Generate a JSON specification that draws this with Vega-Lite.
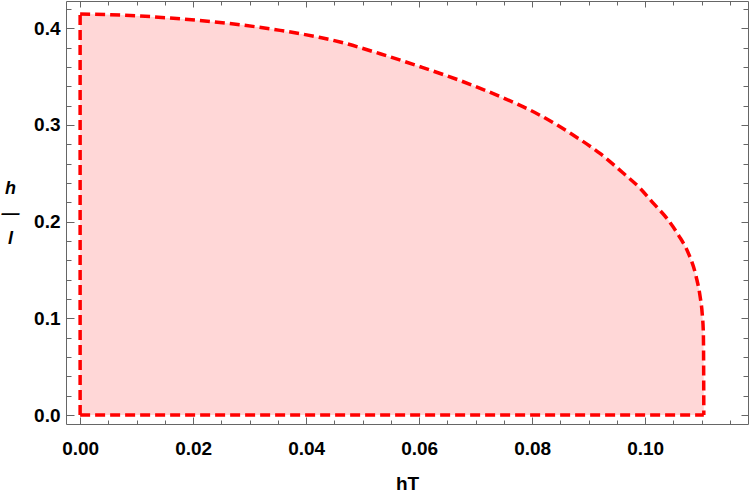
{
  "$schema": "https://vega.github.io/schema/vega-lite/v6.json",
  "width": 682,
  "height": 423,
  "autosize": {"type": "none"},
  "padding": {"left": 66, "top": 1, "right": 2, "bottom": 70},
  "background": "white",
  "datasets": {
    "curve": [
      {"x": 0, "y": 0.4147},
      {"x": 0.0044, "y": 0.4142},
      {"x": 0.00885, "y": 0.4132},
      {"x": 0.0177, "y": 0.4098},
      {"x": 0.0265, "y": 0.4049},
      {"x": 0.0354, "y": 0.3978},
      {"x": 0.0425, "y": 0.3904},
      {"x": 0.046, "y": 0.3858},
      {"x": 0.0531, "y": 0.3736},
      {"x": 0.0602, "y": 0.3602},
      {"x": 0.0673, "y": 0.3458},
      {"x": 0.0743, "y": 0.3295},
      {"x": 0.0814, "y": 0.3100},
      {"x": 0.0867, "y": 0.2916},
      {"x": 0.092, "y": 0.2705},
      {"x": 0.09616, "y": 0.2500},
      {"x": 0.09912, "y": 0.2344},
      {"x": 0.10147, "y": 0.2189},
      {"x": 0.10384, "y": 0.2034},
      {"x": 0.10589, "y": 0.1861},
      {"x": 0.10766, "y": 0.1672},
      {"x": 0.10903, "y": 0.1430},
      {"x": 0.10973, "y": 0.1223},
      {"x": 0.11009, "y": 0.1052},
      {"x": 0.1103, "y": 0.0845},
      {"x": 0.11035, "y": 0.0499},
      {"x": 0.11038, "y": 0}
    ],
    "leftEdge": [{"x": 0, "y": 0}, {"x": 0, "y": 0.4147}],
    "bottomEdge": [{"x": 0, "y": 0}, {"x": 0.11038, "y": 0}]
  },
  "config": {
    "view": {"stroke": "#666666", "strokeWidth": 1},
    "axis": {
      "domain": false,
      "grid": false,
      "tickColor": "#666666",
      "tickWidth": 1,
      "labelFont": "Liberation Sans",
      "labelFontWeight": "bold",
      "labelFontSize": 19,
      "labelColor": "#000000",
      "labelFlush": false,
      "labelOverlap": false,
      "labelBound": false,
      "titleFont": "Liberation Sans",
      "titleFontWeight": "bold",
      "titleFontSize": 19,
      "titleColor": "#000000"
    }
  },
  "resolve": {"axis": {"x": "independent", "y": "independent"}},
  "layer": [
    {
      "data": {"name": "curve"},
      "mark": {"type": "area", "color": "#FFD7D7", "opacity": 1, "interpolate": "monotone"},
      "encoding": {
        "x": {
          "field": "x", "type": "quantitative",
          "scale": {"domain": [-0.0025, 0.1182], "nice": false, "zero": false},
          "axis": {
            "orient": "bottom",
            "values": [0, 0.02, 0.04, 0.06, 0.08, 0.1],
            "format": ".2f",
            "tickSize": -7,
            "labelPadding": 22,
            "title": "hT",
            "titleY": 65,
            "titleBaseline": "alphabetic"
          }
        },
        "y": {
          "field": "y", "type": "quantitative",
          "scale": {"domain": [-0.0093, 0.4282], "nice": false, "zero": false},
          "axis": {
            "orient": "left",
            "values": [0, 0.1, 0.2, 0.3, 0.4],
            "format": ".1f",
            "tickSize": -8,
            "labelPadding": 14,
            "title": ["h", "—", "l"],
            "titleAngle": 0,
            "titleX": -56,
            "titleY": 192,
            "titleAlign": "center",
            "titleBaseline": "alphabetic",
            "titleFontStyle": "italic",
            "titleFontSize": 18,
            "titleLineHeight": 25
          }
        },
        "y2": {"datum": 0}
      }
    },
    {
      "data": {"name": "curve"},
      "mark": {"type": "line", "color": "#FF0000", "strokeWidth": 3.5, "strokeDash": [10, 5], "interpolate": "monotone"},
      "encoding": {
        "x": {
          "field": "x", "type": "quantitative",
          "axis": {
            "orient": "bottom",
            "values": [0, 0.005, 0.01, 0.015, 0.02, 0.025, 0.03, 0.035, 0.04, 0.045, 0.05, 0.055, 0.06, 0.065, 0.07, 0.075, 0.08, 0.085, 0.09, 0.095, 0.1, 0.105, 0.11, 0.115],
            "tickSize": -4,
            "labels": false,
            "title": null
          }
        },
        "y": {
          "field": "y", "type": "quantitative",
          "axis": {
            "orient": "left",
            "values": [0, 0.02, 0.04, 0.06, 0.08, 0.1, 0.12, 0.14, 0.16, 0.18, 0.2, 0.22, 0.24, 0.26, 0.28, 0.3, 0.32, 0.34, 0.36, 0.38, 0.4, 0.42],
            "tickSize": -5,
            "labels": false,
            "title": null
          }
        }
      }
    },
    {
      "data": {"name": "leftEdge"},
      "mark": {"type": "line", "color": "#FF0000", "strokeWidth": 3.5, "strokeDash": [10, 5]},
      "encoding": {
        "x": {
          "field": "x", "type": "quantitative",
          "axis": {
            "orient": "top",
            "values": [0, 0.02, 0.04, 0.06, 0.08, 0.1],
            "tickSize": -6,
            "labels": false,
            "title": null
          }
        },
        "y": {
          "field": "y", "type": "quantitative",
          "axis": {
            "orient": "right",
            "values": [0, 0.1, 0.2, 0.3, 0.4],
            "tickSize": -7,
            "labels": false,
            "title": null
          }
        }
      }
    },
    {
      "data": {"name": "bottomEdge"},
      "mark": {"type": "line", "color": "#FF0000", "strokeWidth": 3.5, "strokeDash": [10, 5]},
      "encoding": {
        "x": {
          "field": "x", "type": "quantitative",
          "axis": {
            "orient": "top",
            "values": [0, 0.005, 0.01, 0.015, 0.02, 0.025, 0.03, 0.035, 0.04, 0.045, 0.05, 0.055, 0.06, 0.065, 0.07, 0.075, 0.08, 0.085, 0.09, 0.095, 0.1, 0.105, 0.11, 0.115],
            "tickSize": -4,
            "labels": false,
            "title": null
          }
        },
        "y": {
          "field": "y", "type": "quantitative",
          "axis": {
            "orient": "right",
            "values": [0, 0.02, 0.04, 0.06, 0.08, 0.1, 0.12, 0.14, 0.16, 0.18, 0.2, 0.22, 0.24, 0.26, 0.28, 0.3, 0.32, 0.34, 0.36, 0.38, 0.4, 0.42],
            "tickSize": -5,
            "labels": false,
            "title": null
          }
        }
      }
    }
  ]
}
